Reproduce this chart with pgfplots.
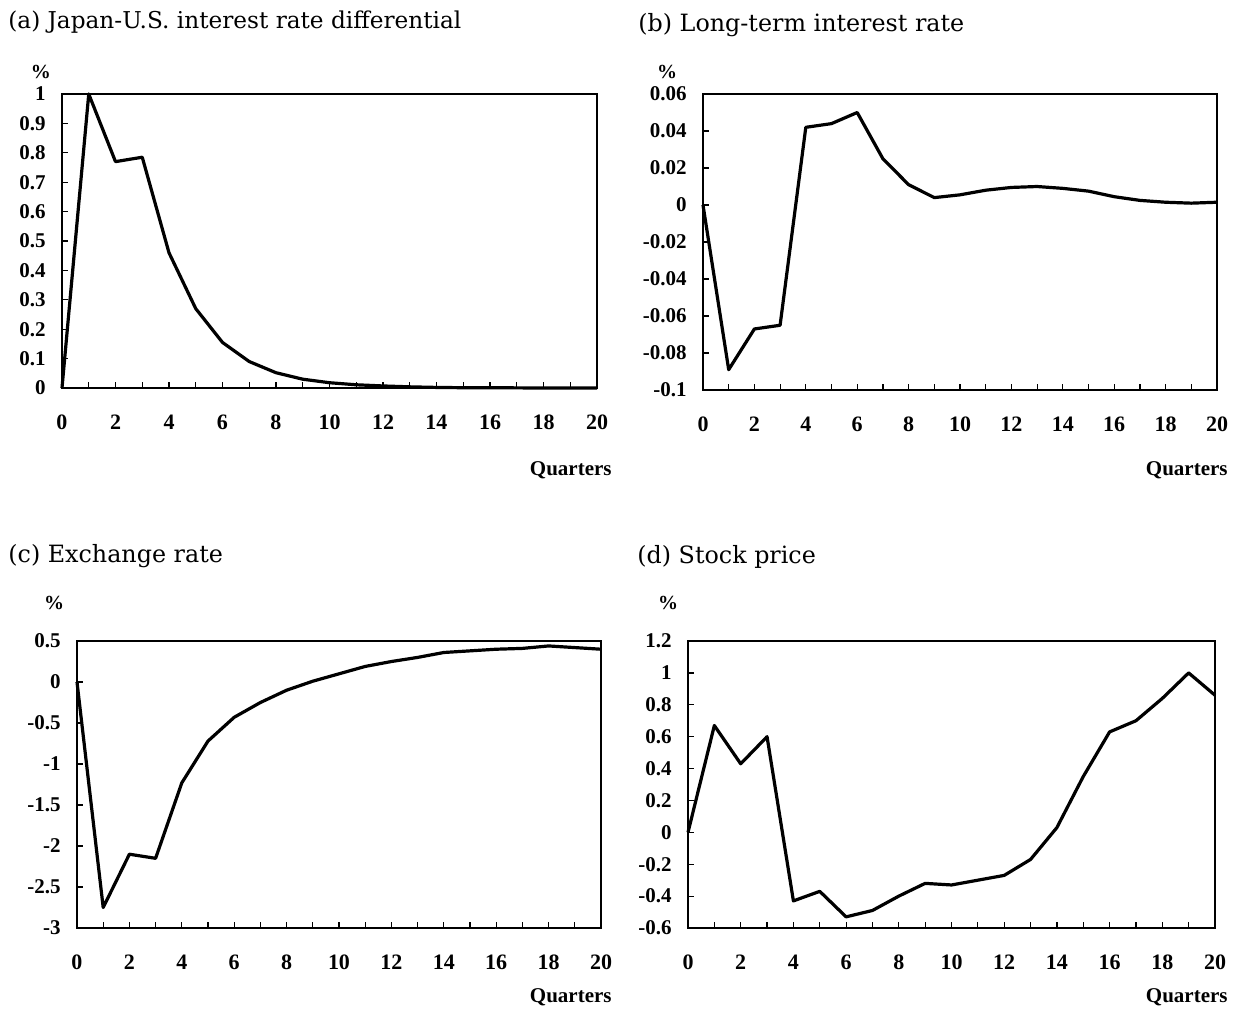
\documentclass[border=0pt]{standalone}
\usepackage{fontspec}
\setmainfont{Liberation Serif}
\newfontfamily\titlefont{DejaVu Serif}
\usepackage{pgfplots}
\pgfplotsset{compat=1.18}
\pgfplotsset{
  panel/.style={
    scale only axis, anchor=south west,
    xmin=0, xmax=20,
    xtick={0,2,4,6,8,10,12,14,16,18,20},
    xticklabels={0,2,4,6,8,10,12,14,16,18,20},
    minor xtick={1,3,5,7,9,11,13,15,17,19},
    tick align=inside, xtick pos=bottom, ytick pos=left,
    major tick length=2.8pt, minor tick length=2.8pt,
    axis line style={line width=0.6pt},
    every tick/.style={black, line width=0.6pt},
    every minor tick/.style={black, line width=0.6pt},
    xticklabel style={font=\fontsize{11}{12}\selectfont\bfseries, anchor=center, yshift=-17pt},
    yticklabel style={font=\fontsize{10.5}{12}\selectfont\bfseries, anchor=east, inner sep=0pt, xshift=-8pt},
    clip=false,
  },
  curve/.style={black, line width=1.6pt, line join=round, mark=none},
}
\begin{document}
\begin{tikzpicture}
\path (0pt,0pt) rectangle (619pt,-504.5pt);
% titles
\begin{scope}[x=0.5pt,y=-0.5pt]
\node[anchor=base west, inner sep=0pt, font=\titlefont\fontsize{11.6}{14}\selectfont] at (8,28) {(a) Japan-U.S. interest rate differential};
\node[anchor=base west, inner sep=0pt, font=\titlefont\fontsize{11.9}{14}\selectfont] at (638,31) {(b) Long-term interest rate};
\node[anchor=base west, inner sep=0pt, font=\titlefont\fontsize{11.9}{14}\selectfont] at (8,562) {(c) Exchange rate};
\node[anchor=base west, inner sep=0pt, font=\titlefont\fontsize{11.9}{14}\selectfont] at (637,563) {(d) Stock price};
\node[inner sep=0pt, font=\fontsize{10}{12}\selectfont\bfseries] at (41,72) {\%};
\node[inner sep=0pt, font=\fontsize{10}{12}\selectfont\bfseries] at (667,72) {\%};
\node[inner sep=0pt, font=\fontsize{10}{12}\selectfont\bfseries] at (54,603) {\%};
\node[inner sep=0pt, font=\fontsize{10}{12}\selectfont\bfseries] at (668,603) {\%};
\node[anchor=east, inner sep=0pt, font=\fontsize{10.5}{12}\selectfont\bfseries] at (612,470) {Quarters};
\node[anchor=east, inner sep=0pt, font=\fontsize{10.5}{12}\selectfont\bfseries] at (1228,470) {Quarters};
\node[anchor=east, inner sep=0pt, font=\fontsize{10.5}{12}\selectfont\bfseries] at (612,997) {Quarters};
\node[anchor=east, inner sep=0pt, font=\fontsize{10.5}{12}\selectfont\bfseries] at (1228,997) {Quarters};
\end{scope}

% (a)
\begin{axis}[panel, at={(31pt,-194pt)}, width=267.5pt, height=147pt,
  ymin=0, ymax=1,
  ytick={0,0.1,0.2,0.3,0.4,0.5,0.6,0.7,0.8,0.9,1},
  yticklabels={0,0.1,0.2,0.3,0.4,0.5,0.6,0.7,0.8,0.9,1}]
\addplot[curve] table {
x y
0 0
1 1.0
2 0.77
3 0.785
4 0.46
5 0.27
6 0.155
7 0.09
8 0.052
9 0.03
10 0.018
11 0.011
12 0.007
13 0.004
14 0.002
15 0.001
16 0.001
17 0.0005
18 0
19 0
20 0
};
\end{axis}

% (b)
\begin{axis}[panel, at={(351.5pt,-195pt)}, width=257pt, height=148pt,
  ymin=-0.1, ymax=0.06,
  ytick={-0.1,-0.08,-0.06,-0.04,-0.02,0,0.02,0.04,0.06},
  yticklabels={-0.1,-0.08,-0.06,-0.04,-0.02,0,0.02,0.04,0.06}]
\addplot[curve] table {
x y
0 0
1 -0.089
2 -0.067
3 -0.065
4 0.042
5 0.044
6 0.050
7 0.025
8 0.011
9 0.004
10 0.0055
11 0.008
12 0.0095
13 0.010
14 0.009
15 0.0075
16 0.0045
17 0.0025
18 0.0015
19 0.001
20 0.0015
};
\end{axis}

% (c)
\begin{axis}[panel, at={(38.5pt,-464pt)}, width=262pt, height=143.5pt,
  ymin=-3, ymax=0.5,
  ytick={-3,-2.5,-2,-1.5,-1,-0.5,0,0.5},
  yticklabels={-3,-2.5,-2,-1.5,-1,-0.5,0,0.5}]
\addplot[curve] table {
x y
0 0
1 -2.75
2 -2.1
3 -2.15
4 -1.23
5 -0.72
6 -0.43
7 -0.25
8 -0.1
9 0.01
10 0.1
11 0.19
12 0.25
13 0.3
14 0.36
15 0.38
16 0.4
17 0.41
18 0.44
19 0.42
20 0.4
};
\end{axis}

% (d)
\begin{axis}[panel, at={(344pt,-464pt)}, width=263.5pt, height=143.5pt,
  ymin=-0.6, ymax=1.2,
  ytick={-0.6,-0.4,-0.2,0,0.2,0.4,0.6,0.8,1,1.2},
  yticklabels={-0.6,-0.4,-0.2,0,0.2,0.4,0.6,0.8,1,1.2}]
\addplot[curve] table {
x y
0 0
1 0.67
2 0.43
3 0.6
4 -0.43
5 -0.37
6 -0.53
7 -0.49
8 -0.4
9 -0.32
10 -0.33
11 -0.3
12 -0.27
13 -0.17
14 0.03
15 0.35
16 0.63
17 0.7
18 0.84
19 1.0
20 0.86
};
\end{axis}
\end{tikzpicture}
\end{document}
